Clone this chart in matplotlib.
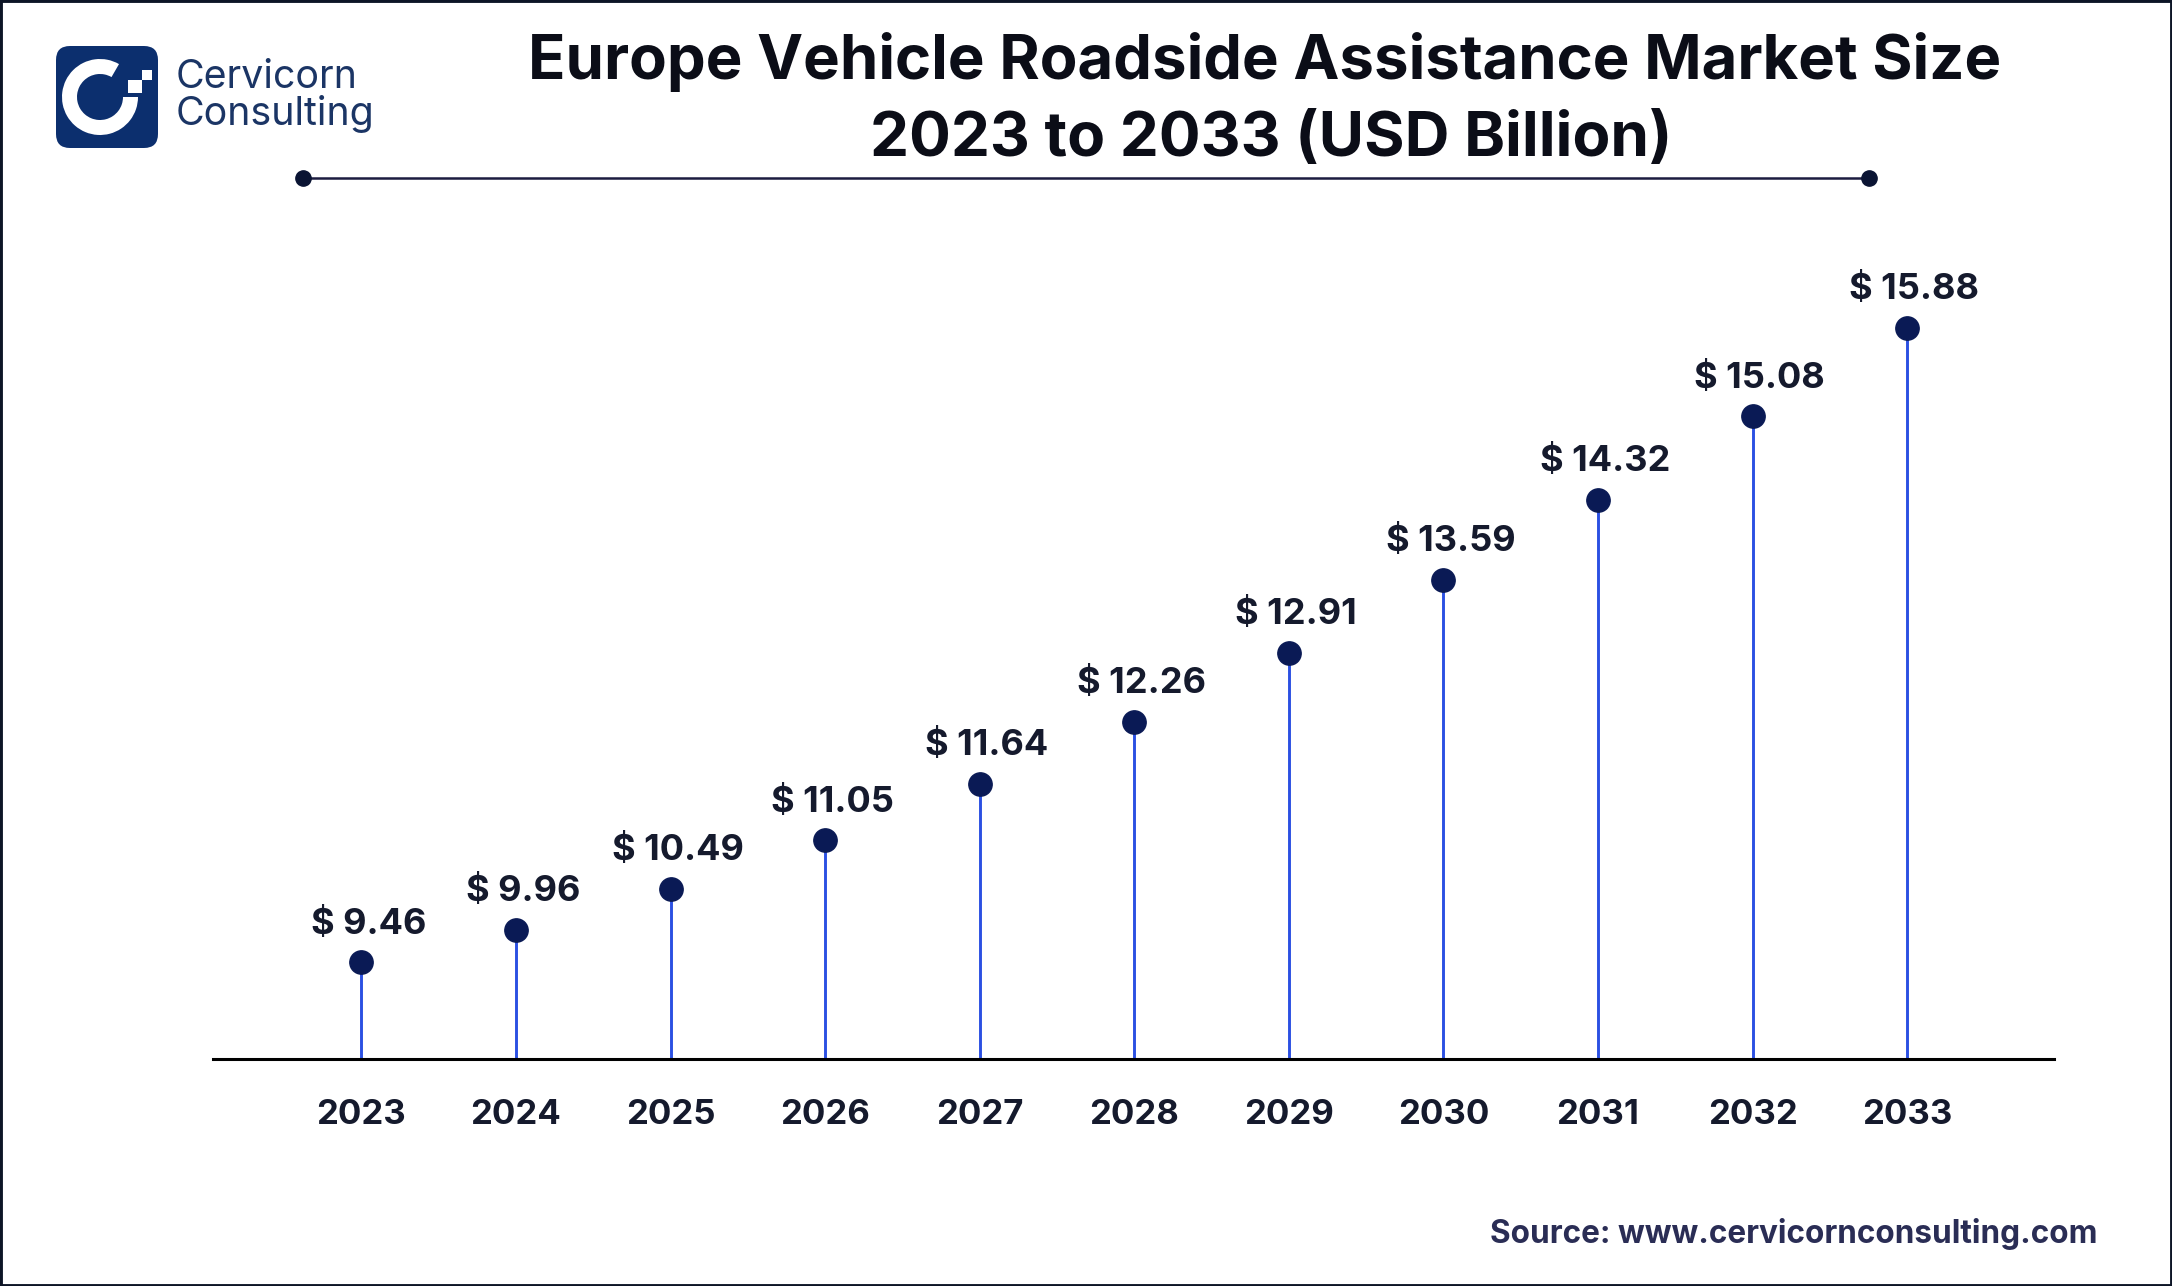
import numpy as np
import matplotlib
matplotlib.use("Agg")
import matplotlib.pyplot as plt
from matplotlib.patches import FancyBboxPatch, Wedge, Rectangle

years = [2023, 2024, 2025, 2026, 2027, 2028, 2029, 2030, 2031, 2032, 2033]
values = [9.46, 9.96, 10.49, 11.05, 11.64, 12.26, 12.91, 13.59, 14.32, 15.08, 15.88]
title_lines = ["Europe Vehicle Roadside Assistance Market Size", "2023 to 2033 (USD Billion)"]
source = "Source: www.cervicornconsulting.com"

W, H = 2172, 1286
fig = plt.figure(figsize=(W / 100, H / 100), dpi=100, facecolor="white")

# Overlay in pixel units for the header, logo and frame
bg = fig.add_axes([0, 0, 1, 1])
bg.set_xlim(0, W); bg.set_ylim(H, 0); bg.axis("off")

# The reference's hidden value axis is not linear: steps are compressed at the
# low end and even at the high end. A soft-plus scale reproduces that.
KNEE, SOFT = 9.3, 1.15
def forward(v):
    return SOFT * np.logaddexp(0.0, (np.asarray(v, dtype=float) - KNEE) / SOFT)
def inverse(y):
    y = np.maximum(np.asarray(y, dtype=float), 1e-9)
    return KNEE + SOFT * np.log(np.expm1(np.minimum(y / SOFT, 600)))

# Chart axes: baseline 213..2054 px at y=1059, no value axis drawn
ax = fig.add_axes([213 / W, 1 - 1059 / H, (2054 - 213) / W, 809 / H])
ax.patch.set_alpha(0)
ax.set_yscale("function", functions=(forward, inverse))
ax.set_xlim(2022.04, 2033.95)
ax.set_ylim(4.0, 16.58)
ax.vlines(years, 4.0, values, color="#2b50e2", lw=2.1, zorder=2)
ax.plot(years, values, ls="none", marker="o", ms=16.8, color="#0a1a55", zorder=3)
for x, v in zip(years, values):
    ax.annotate(f"$ {v:.2f}", (x, v), xytext=(5, 27.5), textcoords="offset points",
                ha="center", va="center", fontsize=26, fontweight="bold",
                family="Inter", color="#151a2d")
for s in ("top", "left", "right"):
    ax.spines[s].set_visible(False)
ax.spines["bottom"].set_linewidth(2.2)
ax.spines["bottom"].set_color("black")
ax.yaxis.set_visible(False)
ax.minorticks_off()
ax.set_xticks(years)
ax.set_xticklabels([str(y) for y in years], fontsize=25, fontweight="bold",
                   family="Inter", color="#151a2d")
ax.tick_params(axis="x", length=0, pad=28.5)

# Title and rule
bg.text(1265, 62, title_lines[0], ha="center", va="center", fontsize=44.4,
        fontweight="bold", family="Inter", color="#0b0d17")
bg.text(1271, 140, title_lines[1], ha="center", va="center", fontsize=44.6,
        fontweight="bold", family="Inter", color="#0b0d17")
bg.plot([303, 1869], [178, 178], color="#1c1c40", lw=1.8, marker="o", ms=11,
        markerfacecolor="#0a1433", markeredgecolor="#0a1433")

# Logo
bg.add_patch(FancyBboxPatch((56, 46), 102, 102, boxstyle="round,pad=0,rounding_size=14",
                            mutation_aspect=1, fc="#0c2f6e", ec="none"))
bg.add_patch(Wedge((100, 97), 38, 0, 300, width=15, fc="white", ec="none"))
bg.add_patch(Rectangle((128, 80), 14, 13, fc="white", ec="none"))
bg.add_patch(Rectangle((142, 70), 10, 10, fc="white", ec="none"))
bg.text(176, 77, "Cervicorn", ha="left", va="center", fontsize=28.3,
        family="Inter", color="#1b3565")
bg.text(176, 114, "Consulting", ha="left", va="center", fontsize=28.3,
        family="Inter", color="#1b3565")

# Source
bg.text(2098, 1234, source, ha="right", va="center", fontsize=22.7,
        fontweight="bold", family="Inter", color="#2a2d55")

# Frame
bg.add_patch(Rectangle((0, 0), W, H, fc="none", ec="#0d1526", lw=3.5, clip_on=True))

fig.savefig("out.png", dpi=100, facecolor="white")
